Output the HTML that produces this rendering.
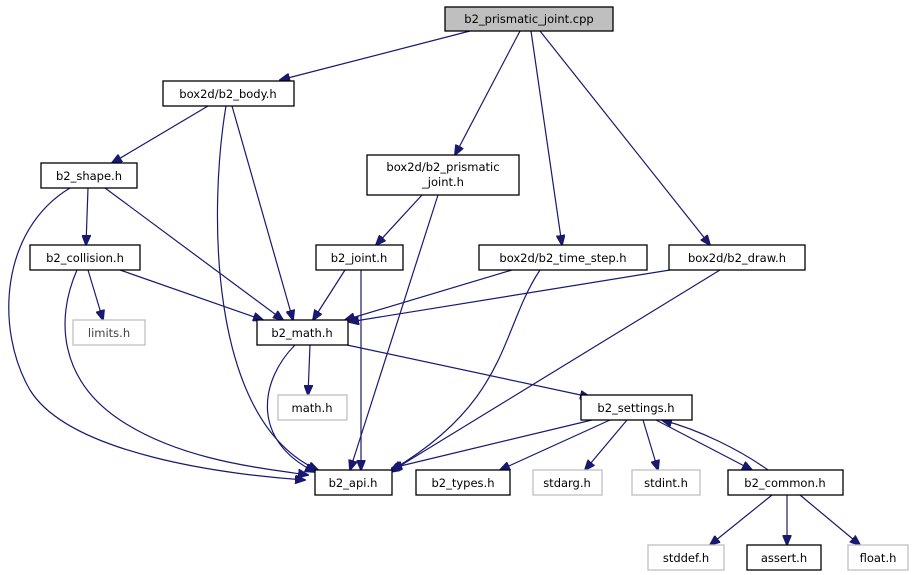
<!DOCTYPE html>
<html><head><meta charset="utf-8"><style>
html,body{margin:0;padding:0;background:#fff;}
svg{display:block;}
text{font-family:"DejaVu Sans","Liberation Sans",sans-serif;font-size:11.5px;fill:#000;text-anchor:middle;}
.n{fill:#fff;stroke:#000;stroke-width:1.3;}
.g{fill:#fff;stroke:#bfbfbf;stroke-width:1.3;}
.e{fill:none;stroke:#191970;stroke-width:1.2;}
</style></head><body>
<svg width="915" height="575" viewBox="0 0 915 575" xmlns="http://www.w3.org/2000/svg">
<defs><marker id="a" markerWidth="11" markerHeight="9" refX="10" refY="4.5" orient="auto" markerUnits="userSpaceOnUse"><path d="M0,0 L11,4.5 L0,9 z" fill="#191970" stroke="#191970"/></marker></defs>
<g class="e" marker-end="url(#a)">
<path d="M470,31 L280,80"/>
<path d="M520,31 L455,155"/>
<path d="M531,31 L562,245"/>
<path d="M540,31 L710,245"/>
<path d="M208,106 L112,163"/>
<path d="M226,106 C210,200 205,420 318,470"/>
<path d="M232,106 L293,320"/>
<path d="M70,188 C0,230 -5,330 30,390 C70,455 230,475 305,480"/>
<path d="M88,188 L86,245"/>
<path d="M105,188 L283,320"/>
<path d="M88,270 L103,320"/>
<path d="M120,270 L263,320"/>
<path d="M77,270 C55,320 60,380 120,420 C180,460 260,468 308,475"/>
<path d="M422,195 L376,245"/>
<path d="M438,195 L350,470"/>
<path d="M345,270 L313,320"/>
<path d="M361,270 L361,470"/>
<path d="M512,270 L345,320"/>
<path d="M540,270 C500,330 510,400 392,470"/>
<path d="M670,270 L349,322"/>
<path d="M720,270 L390,472"/>
<path d="M310,345 L308,395"/>
<path d="M347,345 L590,397"/>
<path d="M295,345 C260,380 250,440 315,472"/>
<path d="M592,420 L392,468"/>
<path d="M610,420 L500,470"/>
<path d="M627,420 L585,470"/>
<path d="M643,420 L658,470"/>
<path d="M656,420 L752,470"/>
<path d="M768,470 C740,450 700,430 662,420"/>
<path d="M772,495 L710,545"/>
<path d="M787,495 L787,545"/>
<path d="M800,495 L860,545"/>
</g>
<rect x="445" y="7" width="168" height="24" fill="#bfbfbf" stroke="#000" stroke-width="1.3"/><text x="529" y="23">b2_prismatic_joint.cpp</text>
<rect class="n" x="163" y="81" width="131" height="25"/><text x="228" y="98">box2d/b2_body.h</text>
<rect class="n" x="41" y="163" width="96" height="25"/><text x="89" y="180">b2_shape.h</text>
<rect class="n" x="30" y="245" width="110" height="25"/><text x="85" y="262">b2_collision.h</text>
<rect class="n" x="367" y="155" width="152" height="40"/><text x="443" y="171">box2d/b2_prismatic</text><text x="443" y="186">_joint.h</text>
<rect class="n" x="316" y="245" width="87" height="25"/><text x="359" y="262">b2_joint.h</text>
<rect class="n" x="479" y="245" width="168" height="25"/><text x="563" y="262">box2d/b2_time_step.h</text>
<rect class="n" x="669" y="245" width="136" height="25"/><text x="737" y="262">box2d/b2_draw.h</text>
<rect class="g" x="73" y="320" width="72" height="25"/><text x="109" y="337" style="fill:#444">limits.h</text>
<rect class="n" x="257" y="320" width="91" height="25"/><text x="302" y="337">b2_math.h</text>
<rect class="g" x="278" y="395" width="69" height="25"/><text x="312" y="412">math.h</text>
<rect class="n" x="581" y="395" width="111" height="25"/><text x="636" y="412">b2_settings.h</text>
<rect class="n" x="315" y="470" width="77" height="25"/><text x="353" y="487">b2_api.h</text>
<rect class="n" x="416" y="470" width="94" height="25"/><text x="463" y="487">b2_types.h</text>
<rect class="g" x="533" y="470" width="69" height="25"/><text x="567" y="487">stdarg.h</text>
<rect class="g" x="632" y="470" width="68" height="25"/><text x="666" y="487">stdint.h</text>
<rect class="n" x="728" y="470" width="115" height="25"/><text x="785" y="487">b2_common.h</text>
<rect class="g" x="648" y="545" width="76" height="25"/><text x="686" y="562">stddef.h</text>
<rect class="n" x="747" y="545" width="74" height="25"/><text x="784" y="562">assert.h</text>
<rect class="g" x="848" y="545" width="60" height="25"/><text x="878" y="562">float.h</text>
</svg>
</body></html>
